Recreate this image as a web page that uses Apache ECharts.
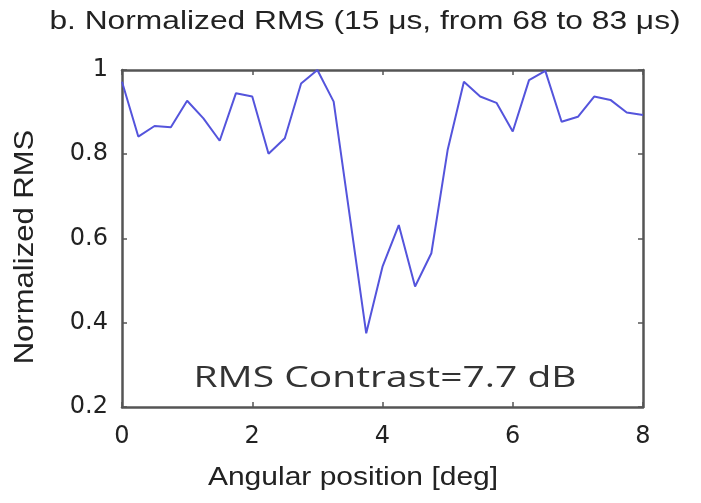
<!DOCTYPE html>
<html>
<head>
<meta charset="utf-8">
<script src="https://cdn.jsdelivr.net/npm/echarts@6/dist/echarts.min.js"></script>
<style>
  html, body { margin: 0; padding: 0; background: #fff; }
  #chart { width: 701px; height: 503px; }
</style>
</head>
<body>
<div id="chart"></div>
<script>
// Angular positions (deg) and normalized RMS values
const angles = [0, 0.25, 0.5, 0.75, 1, 1.25, 1.5, 1.75, 2, 2.25, 2.5, 2.75, 3, 3.25, 3.5, 3.75,
  4, 4.25, 4.5, 4.75, 5, 5.25, 5.5, 5.75, 6, 6.25, 6.5, 6.75, 7, 7.25, 7.5, 7.75, 8];
const rmsValues = [0.972, 0.842, 0.867, 0.864, 0.927, 0.885, 0.832, 0.945, 0.937, 0.801, 0.838, 0.968,
  1.0, 0.925, 0.65, 0.375, 0.533, 0.632, 0.486, 0.565, 0.81, 0.972, 0.937, 0.922, 0.854, 0.976,
  0.998, 0.877, 0.889, 0.937, 0.929, 0.899, 0.893];
const xTicks = [0, 2, 4, 6, 8];
const yTicks = [0.2, 0.4, 0.6, 0.8, 1];

const titleText = 'b. Normalized RMS (15 \u03bcs, from 68 to 83 \u03bcs)';
const xName = 'Angular position [deg]';
const yName = 'Normalized RMS';
const noteText = 'RMS Contrast=7.7 dB';

const chart = echarts.init(document.getElementById('chart'), null, { renderer: 'canvas' });

const frame = '#555';
const tickFont = { fontFamily: 'DejaVu Sans', fontSize: 24, color: '#222' };

const xBase = {
  type: 'value', min: xTicks[0], max: xTicks[xTicks.length - 1], interval: 2,
  axisLine: { show: true, onZero: false, lineStyle: { color: frame, width: 2.5 } },
  axisTick: { show: true, inside: true, length: 5, lineStyle: { color: frame, width: 1.5 } },
  splitLine: { show: false }
};
const yBase = {
  type: 'value', min: yTicks[0], max: yTicks[yTicks.length - 1], interval: 0.2,
  axisLine: { show: true, onZero: false, lineStyle: { color: frame, width: 2.5 } },
  axisTick: { show: true, inside: true, length: 5, lineStyle: { color: frame, width: 1.5 } },
  splitLine: { show: false }
};

chart.setOption({
  animation: false,
  backgroundColor: '#fff',
  grid: { left: 122, right: 58, top: 70, bottom: 96, containLabel: false },
  xAxis: [
    Object.assign({}, xBase, {
      position: 'bottom',
      axisLabel: Object.assign({ margin: 18, formatter: v => String(v) }, tickFont)
    }),
    Object.assign({}, xBase, { position: 'top', axisLabel: { show: false } })
  ],
  yAxis: [
    Object.assign({}, yBase, {
      position: 'left',
      axisLabel: Object.assign({ margin: 14, formatter: v => String(Math.round(v * 10) / 10) }, tickFont)
    }),
    Object.assign({}, yBase, { position: 'right', axisLabel: { show: false } })
  ],
  series: [{
    type: 'line',
    data: angles.map((a, i) => [a, rmsValues[i]]),
    showSymbol: false,
    lineStyle: { color: '#5454dc', width: 2 },
    itemStyle: { color: '#5454dc' }
  }],
  graphic: [
    {
      type: 'text', x: 365, y: 22, scaleX: 1.27,
      style: { text: titleText, font: '25px "Liberation Sans"', fill: '#222',
        textAlign: 'center', textVerticalAlign: 'middle' }
    },
    {
      type: 'text', x: 353, y: 478, scaleX: 1.2,
      style: { text: xName, font: '25px "Liberation Sans"', fill: '#222',
        textAlign: 'center', textVerticalAlign: 'middle' }
    },
    {
      type: 'text', x: 26, y: 247, rotation: Math.PI / 2, scaleX: 1.15,
      style: { text: yName, font: '27px "Liberation Sans"', fill: '#222',
        textAlign: 'center', textVerticalAlign: 'middle' }
    },
    {
      type: 'text', x: 385, y: 378, scaleX: 1.3,
      style: { text: noteText, font: '30px "Open Sans"', fill: '#333',
        textAlign: 'center', textVerticalAlign: 'middle' }
    }
  ]
});
</script>
</body>
</html>
